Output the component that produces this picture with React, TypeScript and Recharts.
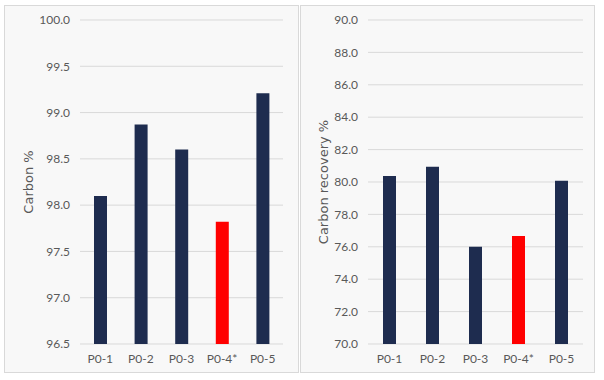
import React from "react";
import { BarChart, Bar, XAxis, YAxis, CartesianGrid, Cell } from "recharts";

const categories = ["P0-1", "P0-2", "P0-3", "P0-4*", "P0-5"];
const carbonPct = [98.1, 98.87, 98.6, 97.82, 99.21];
const carbonRecovery = [80.37, 80.94, 76.01, 76.67, 80.08];
const highlighted = ["P0-4*"];
const leftTicks = [96.5, 97.0, 97.5, 98.0, 98.5, 99.0, 99.5, 100.0];
const rightTicks = [70, 72, 74, 76, 78, 80, 82, 84, 86, 88, 90];

const NAVY = "#1e2c4f";
const RED = "#ff0000";
const FONT = "Lato, 'Open Sans', sans-serif";
const TICK = { fill: "#595959", fontSize: 12, fontFamily: FONT };

const leftData = categories.map((c, i) => ({ name: c, value: carbonPct[i] }));
const rightData = categories.map((c, i) => ({ name: c, value: carbonRecovery[i] }));

const PANEL_W = 295;
const PANEL_H = 368;

function Panel({
  left,
  data,
  ticks,
  domain,
  label,
  yWidth,
  rightMargin,
  labelDx,
}: {
  left: number;
  data: { name: string; value: number }[];
  ticks: number[];
  domain: [number, number];
  label: string;
  yWidth: number;
  rightMargin: number;
  labelDx: number;
}) {
  return (
    <>
      <div
        style={{
          position: "absolute",
          left,
          top: 5,
          width: PANEL_W,
          height: PANEL_H,
          boxSizing: "border-box",
          border: "1px solid #d9d9d9",
          background: "#f8f8f8",
        }}
      />
      <div style={{ position: "absolute", left, top: 5 }}>
        <BarChart
          width={PANEL_W}
          height={PANEL_H}
          data={data}
          margin={{ top: 15, right: rightMargin, left: 0, bottom: 0 }}
        >
          <CartesianGrid vertical={false} stroke="#d9d9d9" />
          <XAxis
            dataKey="name"
            axisLine={false}
            tickLine={false}
            height={29}
            tick={TICK}
            tickMargin={4}
            interval={0}
          />
          <YAxis
            type="number"
            domain={domain}
            ticks={ticks}
            allowDataOverflow
            axisLine={false}
            tickLine={false}
            width={yWidth}
            tick={TICK}
            tickMargin={4}
            tickFormatter={(v: number) => v.toFixed(1)}
            label={{
              value: label,
              angle: -90,
              position: "insideLeft",
              offset: 0,
              dx: labelDx,
              style: { textAnchor: "middle", fill: "#595959", fontSize: 13, fontFamily: "'DejaVu Sans', sans-serif" },
            }}
          />
          <Bar dataKey="value" barSize={13} isAnimationActive={false}>
            {data.map((d) => (
              <Cell key={d.name} fill={highlighted.includes(d.name) ? RED : NAVY} />
            ))}
          </Bar>
        </BarChart>
      </div>
    </>
  );
}

export default function App() {
  return (
    <div style={{ position: "absolute", left: 0, top: 0, width: 604, height: 380, background: "#ffffff" }}>
      <Panel
        left={4}
        data={leftData}
        ticks={leftTicks}
        domain={[96.5, 100]}
        label="Carbon %"
        yWidth={76}
        rightMargin={16}
        labelDx={24}
      />
      <Panel
        left={300}
        data={rightData}
        ticks={rightTicks}
        domain={[70, 90]}
        label="Carbon recovery %"
        yWidth={68}
        rightMargin={12}
        labelDx={23}
      />
    </div>
  );
}
